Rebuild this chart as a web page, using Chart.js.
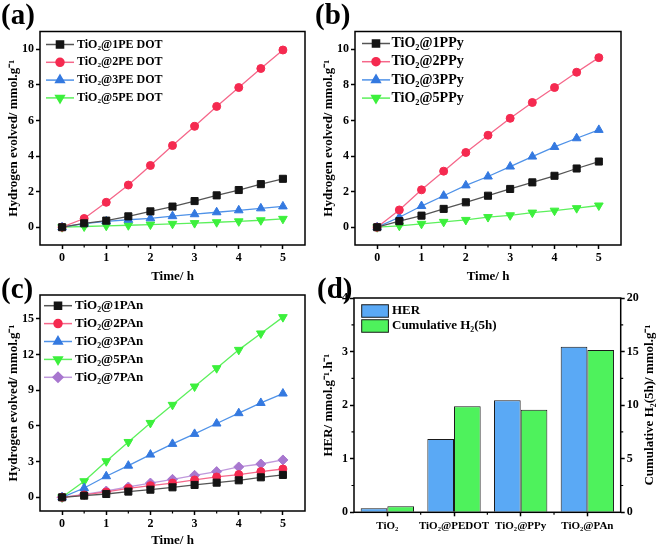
<!DOCTYPE html>
<html>
<head>
<meta charset="utf-8">
<script src="https://cdn.jsdelivr.net/npm/chart.js"></script>
<style>
  body { margin: 0; background: #fff; }
  #wrap { position: relative; width: 661px; height: 548px; overflow: hidden; }
  canvas { position: absolute; }
  .tag { position: absolute; font: bold 29px "Liberation Serif", "Times New Roman", serif; line-height: 1; }
</style>
</head>
<body>
<div id="wrap">
  <canvas id="chartA" width="330" height="290" style="left:0;top:0"></canvas>
  <canvas id="chartB" width="346" height="290" style="left:315px;top:0"></canvas>
  <canvas id="chartC" width="330" height="274" style="left:0;top:274px"></canvas>
  <canvas id="chartD" width="346" height="274" style="left:315px;top:274px"></canvas>
  <div class="tag" style="left:1px;top:0px">(a)</div>
  <div class="tag" style="left:315px;top:0px">(b)</div>
  <div class="tag" style="left:1px;top:274px">(c)</div>
  <div class="tag" style="left:317px;top:274px">(d)</div>
</div>
<script>
// time points (h)
const times = [0, 0.5, 1, 1.5, 2, 2.5, 3, 3.5, 4, 4.5, 5];
const timeTicks = [0, 1, 2, 3, 4, 5];
const timeMinor = [0.5, 1.5, 2.5, 3.5, 4.5];

// (a) PEDOT
const pedotLabels = ['TiO₂@1PE DOT', 'TiO₂@2PE DOT', 'TiO₂@3PE DOT', 'TiO₂@5PE DOT'];
const pedot1 = [0, 0.22, 0.37, 0.61, 0.89, 1.16, 1.47, 1.79, 2.09, 2.42, 2.72];
const pedot2 = [0, 0.49, 1.40, 2.37, 3.47, 4.59, 5.67, 6.79, 7.85, 8.92, 9.96];
const pedot3 = [0, 0.2, 0.33, 0.42, 0.5, 0.62, 0.73, 0.84, 0.95, 1.06, 1.17];
const pedot5 = [0, 0.04, 0.08, 0.11, 0.15, 0.19, 0.23, 0.28, 0.33, 0.39, 0.47];

// (b) PPy
const ppyLabels = ['TiO₂@1PPy', 'TiO₂@2PPy', 'TiO₂@3PPy', 'TiO₂@5PPy'];
const ppy1 = [0, 0.34, 0.65, 1.03, 1.4, 1.77, 2.15, 2.52, 2.89, 3.3, 3.69];
const ppy2 = [0, 0.97, 2.1, 3.15, 4.2, 5.17, 6.12, 7.01, 7.85, 8.71, 9.53];
const ppy3 = [0, 0.56, 1.19, 1.77, 2.35, 2.85, 3.41, 3.97, 4.51, 5.0, 5.47];
const ppy5 = [0, 0.08, 0.19, 0.3, 0.41, 0.57, 0.67, 0.82, 0.93, 1.07, 1.22];
const hTicksAB = [0, 2, 4, 6, 8, 10];

// (c) PAn
const panLabels = ['TiO₂@1PAn', 'TiO₂@2PAn', 'TiO₂@3PAn', 'TiO₂@5PAn', 'TiO₂@7PAn'];
const pan1 = [0, 0.14, 0.28, 0.48, 0.64, 0.84, 1.04, 1.23, 1.43, 1.68, 1.88];
const pan2 = [0, 0.2, 0.45, 0.76, 0.98, 1.2, 1.46, 1.71, 1.91, 2.16, 2.38];
const pan3 = [0, 0.78, 1.77, 2.66, 3.59, 4.49, 5.33, 6.2, 7.07, 7.93, 8.72];
const pan5 = [0, 1.35, 3.03, 4.65, 6.25, 7.77, 9.31, 10.85, 12.39, 13.77, 15.14];
const pan7 = [0, 0.25, 0.53, 0.87, 1.2, 1.51, 1.85, 2.16, 2.55, 2.8, 3.14];
const hTicksC = [0, 3, 6, 9, 12, 15];

// (d) rates
const catalysts = ['TiO₂', 'TiO₂@PEDOT', 'TiO₂@PPy', 'TiO₂@PAn'];
const her = [0.075, 1.37, 2.09, 3.09];
const cumulative = [0.56, 9.9, 9.58, 15.15];
const herTicks = [0, 1, 2, 3, 4];
const cumTicks = [0, 5, 10, 15, 20];
const herMinor = [0.5, 1.5, 2.5, 3.5];
const cumMinor = [2.5, 7.5, 12.5, 17.5];

const serif = '"Liberation Serif", "Times New Roman", serif';
Chart.defaults.font.family = serif;
Chart.defaults.font.weight = 'bold';
Chart.defaults.color = '#000';

const look = {
  black:  { line: '#555555', fill: '#141414', point: 'rect', radius: 5 },
  red:    { line: '#f5678a', fill: '#f52a50', point: 'circle', radius: 4 },
  blue:   { line: '#4f92e8', fill: '#3479e0', point: 'triangle', radius: 5 },
  green:  { line: '#5cf05c', fill: '#3cf03c', point: 'triangle', rot: 180, radius: 5 },
  purple: { line: '#bf98dc', fill: '#a877cf', point: 'rectRot', radius: 5 }
};

function series(label, vals, s) {
  return {
    label: label,
    data: times.map((t, i) => ({ x: t, y: vals[i] })),
    borderColor: s.line, borderWidth: 1.3, backgroundColor: s.fill,
    pointStyle: s.point, pointRotation: s.rot || 0, pointRadius: s.radius,
    pointBackgroundColor: s.fill, pointBorderColor: s.fill, pointBorderWidth: 1,
    look: s
  };
}

// frame, minor ticks, inner legend, right-hand title
const decor = {
  id: 'decor',
  afterDraw(chart, args, o) {
    const { ctx, chartArea: a, scales } = chart;
    ctx.save();
    ctx.strokeStyle = '#000';
    ctx.lineWidth = 1.5;
    ctx.strokeRect(a.left, a.top, a.right - a.left, a.bottom - a.top);
    ctx.lineWidth = 1.2;
    ctx.beginPath();
    (o.minorX || []).forEach(v => {
      const px = scales.x.getPixelForValue(v);
      ctx.moveTo(px, a.bottom); ctx.lineTo(px, a.bottom + 2.5);
    });
    (o.minorY || []).forEach(v => {
      const py = scales.y.getPixelForValue(v);
      ctx.moveTo(a.left, py); ctx.lineTo(a.left - 2.5, py);
    });
    (o.minorY1 || []).forEach(v => {
      const py = scales.y1.getPixelForValue(v);
      ctx.moveTo(a.right, py); ctx.lineTo(a.right + 2.5, py);
    });
    ctx.stroke();

    // legend inside the plot
    const lg = o.legend;
    ctx.font = 'bold ' + (lg.size || 13) + 'px ' + serif;
    ctx.textBaseline = 'middle';
    chart.data.datasets.forEach((ds, i) => {
      const y = a.top + lg.top + i * lg.row;
      const x = a.left + lg.icon;
      if (lg.box) {
        ctx.fillStyle = ds.backgroundColor;
        ctx.fillRect(x, y - lg.box[1] / 2, lg.box[0], lg.box[1]);
        ctx.strokeStyle = '#1a1a1a'; ctx.lineWidth = 1;
        ctx.strokeRect(x, y - lg.box[1] / 2, lg.box[0], lg.box[1]);
      } else {
        const s = ds.look;
        ctx.strokeStyle = s.line; ctx.lineWidth = 1.5;
        ctx.beginPath(); ctx.moveTo(x - lg.half, y); ctx.lineTo(x + lg.half, y); ctx.stroke();
        ctx.fillStyle = s.fill; ctx.strokeStyle = s.fill;
        Chart.helpers.drawPoint(ctx, { pointStyle: s.point, rotation: s.rot || 0, radius: s.radius, borderWidth: 1 }, x, y);
      }
      ctx.fillStyle = '#000';
      ctx.textAlign = 'left';
      ctx.fillText(ds.label, a.left + lg.text, y);
    });

    if (o.rightTitle) {
      ctx.translate(o.rightTitle.x, (a.top + a.bottom) / 2);
      ctx.rotate(-Math.PI / 2);
      ctx.textAlign = 'center';
      ctx.font = 'bold 13px ' + serif;
      ctx.fillStyle = '#000';
      ctx.fillText(o.rightTitle.text, 0, 0);
    }
    ctx.restore();
  }
};

const tickGrid = { drawOnChartArea: false, tickLength: 4, tickColor: '#000', tickWidth: 1.5 };
const tickFont = { size: 12, weight: 'bold' };
const titleFont = { size: 13, weight: 'bold' };

function lineChart(id, datasets, yMin, yMax, yTicks, pad, xHeight, xTitlePad, legend) {
  return new Chart(document.getElementById(id), {
    type: 'line',
    data: { datasets: datasets },
    plugins: [decor],
    options: {
      responsive: false, animation: false, events: [],
      layout: { padding: pad },
      plugins: {
        legend: { display: false }, tooltip: { enabled: false },
        decor: { minorX: timeMinor, legend: legend }
      },
      scales: {
        x: {
          type: 'linear', min: -0.5, max: 5.5,
          afterBuildTicks: s => { s.ticks = timeTicks.map(v => ({ value: v })); },
          afterFit: s => { s.height = xHeight; },
          grid: tickGrid, border: { display: false },
          ticks: { font: tickFont, color: '#000', padding: 2, maxRotation: 0 },
          title: { display: true, text: 'Time/ h', font: titleFont, color: '#000', padding: { top: 0, bottom: xTitlePad } }
        },
        y: {
          min: yMin, max: yMax,
          afterBuildTicks: s => { s.ticks = yTicks.map(v => ({ value: v })); },
          afterFit: s => { s.width = 40; },
          grid: tickGrid, border: { display: false },
          ticks: { font: tickFont, color: '#000', padding: 2 },
          title: { display: true, text: 'Hydrogen evolved/ mmol.g⁻¹', font: titleFont, color: '#000', padding: { top: 6, bottom: 0 } }
        }
      }
    }
  });
}

lineChart('chartA', [
  series(pedotLabels[0], pedot1, look.black),
  series(pedotLabels[1], pedot2, look.red),
  series(pedotLabels[2], pedot3, look.blue),
  series(pedotLabels[3], pedot5, look.green)
], -1, 11, hTicksAB, { top: 31.5, right: 25, left: 0, bottom: 0 }, 45, 6,
  { icon: 20, half: 14, text: 37, top: 13, row: 17.8, size: 12 });

lineChart('chartB', [
  series(ppyLabels[0], ppy1, look.black),
  series(ppyLabels[1], ppy2, look.red),
  series(ppyLabels[2], ppy3, look.blue),
  series(ppyLabels[3], ppy5, look.green)
], -1, 11, hTicksAB, { top: 31.5, right: 40, left: 0, bottom: 0 }, 45, 6,
  { icon: 21, half: 14, text: 36.5, top: 12, row: 18.2, size: 14 });

lineChart('chartC', [
  series(panLabels[0], pan1, look.black),
  series(panLabels[1], pan2, look.red),
  series(panLabels[2], pan3, look.blue),
  series(panLabels[3], pan5, look.green),
  series(panLabels[4], pan7, look.purple)
], -1.15, 17, hTicksC, { top: 21, right: 25, left: 0, bottom: 0 }, 37, 0,
  { icon: 18, half: 14, text: 35, top: 10.7, row: 17.9, size: 13 });

new Chart(document.getElementById('chartD'), {
  type: 'bar',
  data: {
    labels: catalysts,
    datasets: [
      { label: 'HER', data: her, yAxisID: 'y', backgroundColor: '#5aa9f5', borderColor: '#1a1a1a', borderWidth: 1 },
      { label: 'Cumulative H₂(5h)', data: cumulative, yAxisID: 'y1', backgroundColor: '#4ef25c', borderColor: '#1a1a1a', borderWidth: 1 }
    ]
  },
  plugins: [decor],
  options: {
    responsive: false, animation: false, events: [],
    layout: { padding: { top: 24, left: 0, right: 0, bottom: 0 } },
    datasets: { bar: { categoryPercentage: 0.8, barPercentage: 1.0 } },
    plugins: {
      legend: { display: false }, tooltip: { enabled: false },
      decor: {
        minorX: [0.5, 1.5, 2.5], minorY: herMinor, minorY1: cumMinor,
        legend: { icon: 7.7, box: [26.7, 12.5], text: 38, top: 13, row: 15, size: 13 },
        rightTitle: { x: 335, text: 'Cumulative H₂(5h)/ mmol.g⁻¹' }
      }
    },
    scales: {
      x: {
        afterFit: s => { s.height = 35.7; },
        grid: Object.assign({}, tickGrid, { offset: false }), border: { display: false },
        ticks: { font: { size: 11, weight: 'bold' }, color: '#000', padding: 3, maxRotation: 0, autoSkip: false }
      },
      y: {
        position: 'left', min: 0, max: 4,
        afterBuildTicks: s => { s.ticks = herTicks.map(v => ({ value: v })); },
        afterFit: s => { s.width = 39; },
        grid: tickGrid, border: { display: false },
        ticks: { font: tickFont, color: '#000', padding: 2 },
        title: { display: true, text: 'HER/ mmol.g⁻¹.h⁻¹', font: titleFont, color: '#000', padding: { top: 6, bottom: 0 } }
      },
      y1: {
        position: 'right', min: 0, max: 20,
        afterBuildTicks: s => { s.ticks = cumTicks.map(v => ({ value: v })); },
        afterFit: s => { s.width = 40.3; },
        grid: tickGrid, border: { display: false },
        ticks: { font: tickFont, color: '#000', padding: 2 }
      }
    }
  }
});
</script>
</body>
</html>
